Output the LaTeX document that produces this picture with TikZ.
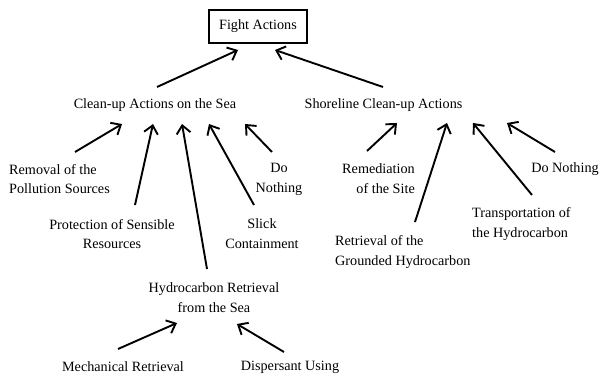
\documentclass[tikz,border=0pt]{standalone}
\usepackage{fontspec}
\setmainfont{Liberation Serif}
\usetikzlibrary{arrows.meta}
\begin{document}
\begin{tikzpicture}[x=1pt,y=-1pt,
  lbl/.style={font=\fontsize{14.2}{19.8}\selectfont, inner sep=0pt, align=center},
  arr/.style={line width=1.9pt, -{Straight Barb[length=8pt,width=14pt,line width=1.9pt]}}]
\useasboundingbox (0,0) rectangle (606,379);
% nodes
\node[lbl, draw, line width=1.6pt, minimum width=98pt, minimum height=33pt] (fight) at (258,26.5) {Fight Actions};
\node[lbl] (sea) at (155,105) {Clean-up Actions on the Sea};
\node[lbl] (shore) at (383.5,105) {Shoreline Clean-up Actions};
\node[lbl, align=left, anchor=west] (removal) at (9,179) {Removal of the\\Pollution Sources};
\node[lbl] (protect) at (112,234) {Protection of Sensible\\Resources};
\node[lbl] (slick) at (262,234) {Slick\\Containment};
\node[lbl] (donot1) at (279,179) {Do\\Nothing};
\node[lbl, align=right, anchor=east] (remed) at (415,179) {Remediation\\of the Site};
\node[lbl, align=left, anchor=west] (retr) at (335,252) {Retrieval of the\\Grounded Hydrocarbon};
\node[lbl, align=left, anchor=west] (transp) at (472,224) {Transportation of\\the Hydrocarbon};
\node[lbl] (donot2) at (565,169) {Do Nothing};
\node[lbl] (hydro) at (214,298) {Hydrocarbon Retrieval\\from the Sea};
\node[lbl] (mech) at (123,367) {Mechanical Retrieval};
\node[lbl] (disp) at (290,367) {Dispersant Using};
% connector end points
\coordinate (a1s) at (157,87); \coordinate (a1e) at (238,50);
\coordinate (a2s) at (383,87); \coordinate (a2e) at (275,50);
\coordinate (b1s) at (75,152); \coordinate (b1e) at (122,124);
\coordinate (b2s) at (135,205); \coordinate (b2e) at (153,124);
\coordinate (b3s) at (207,269); \coordinate (b3e) at (182,124);
\coordinate (b4s) at (254,205); \coordinate (b4e) at (209,124);
\coordinate (b5s) at (272,152); \coordinate (b5e) at (245,124);
\coordinate (c1s) at (367,151); \coordinate (c1e) at (397,123);
\coordinate (c2s) at (415,222); \coordinate (c2e) at (447,123);
\coordinate (c3s) at (532,195); \coordinate (c3e) at (473,123);
\coordinate (c4s) at (555,152); \coordinate (c4e) at (507,123);
\coordinate (d1s) at (118,349); \coordinate (d1e) at (177,323);
\coordinate (d2s) at (284,352); \coordinate (d2e) at (237,324);
% connectors
\draw[arr] (a1s) -- (a1e);
\draw[arr] (a2s) -- (a2e);
\draw[arr] (b1s) -- (b1e);
\draw[arr] (b2s) -- (b2e);
\draw[arr] (b3s) -- (b3e);
\draw[arr] (b4s) -- (b4e);
\draw[arr] (b5s) -- (b5e);
\draw[arr] (c1s) -- (c1e);
\draw[arr] (c2s) -- (c2e);
\draw[arr] (c3s) -- (c3e);
\draw[arr] (c4s) -- (c4e);
\draw[arr] (d1s) -- (d1e);
\draw[arr] (d2s) -- (d2e);
\end{tikzpicture}
\end{document}
